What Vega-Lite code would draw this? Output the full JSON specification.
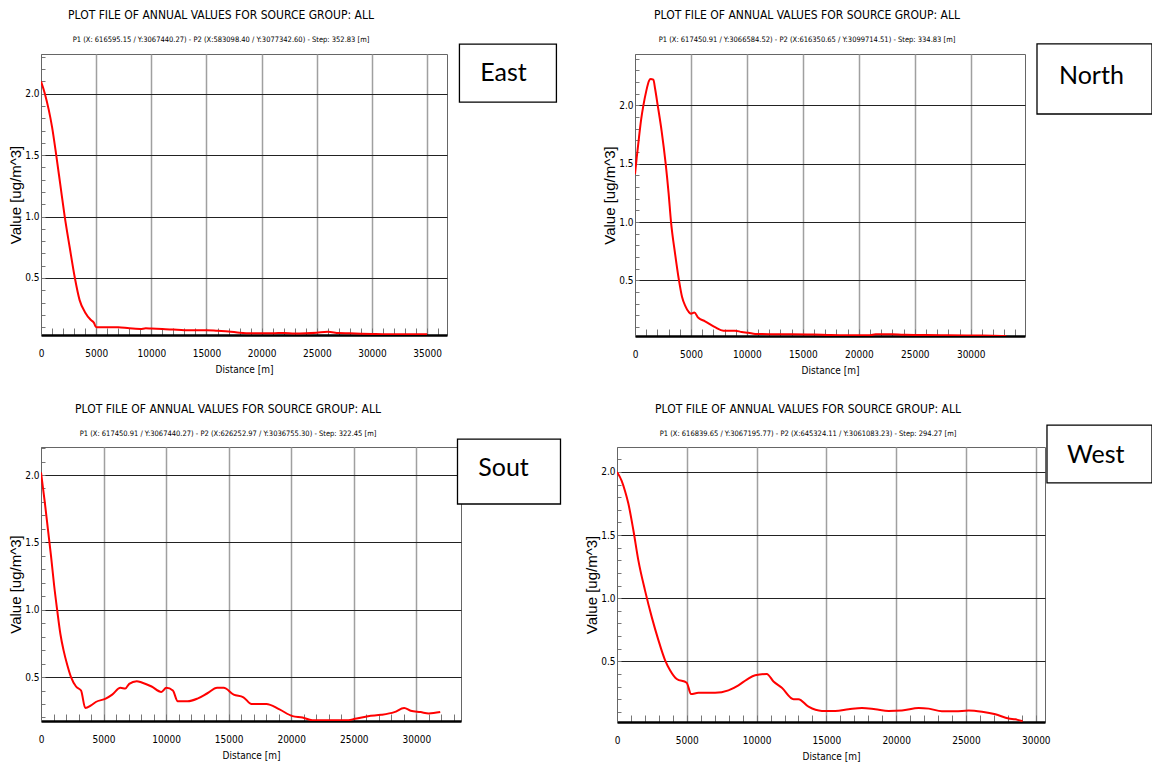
{
  "$schema": "https://vega.github.io/schema/vega-lite/v6.json",
  "padding": {"left": 8, "top": 8, "right": 0, "bottom": 0},
  "background": "white",
  "config": {
    "view": {"stroke": "#666", "strokeWidth": 1},
    "axis": {
      "labelFont": "Liberation Sans Narrow, DejaVu Sans Condensed, sans-serif",
      "labelFontSize": 10,
      "labelColor": "#000",
      "titleColor": "#000",
      "titleFontWeight": "normal",
      "labelOverlap": false,
      "labelFlush": false,
      "tickCount": 200
    },
    "axisX": {"titleFont": "Liberation Sans Narrow, DejaVu Sans Condensed, sans-serif", "titleFontSize": 10, "titlePadding": 6},
    "axisY": {"titleFont": "Liberation Sans, Arial, sans-serif", "titleFontSize": 15, "titlePadding": 1},
    "title": {
      "anchor": "middle",
      "frame": "group",
      "dx": -23,
      "font": "Liberation Sans Narrow, DejaVu Sans Condensed, sans-serif",
      "fontSize": 12,
      "fontWeight": "normal",
      "color": "#000",
      "subtitleFont": "Liberation Sans Narrow, DejaVu Sans Condensed, sans-serif",
      "subtitleFontSize": 7.5,
      "subtitleColor": "#000",
      "subtitlePadding": 14
    }
  },
  "datasets": {
    "east": [
      {"d": 0, "v": 2.10}, {"d": 350, "v": 2.00}, {"d": 700, "v": 1.87}, {"d": 1000, "v": 1.73}, {"d": 1380, "v": 1.50},
      {"d": 1750, "v": 1.26}, {"d": 2150, "v": 1.00}, {"d": 2600, "v": 0.75}, {"d": 3070, "v": 0.50}, {"d": 3500, "v": 0.32},
      {"d": 4000, "v": 0.22}, {"d": 4500, "v": 0.16}, {"d": 4800, "v": 0.135}, {"d": 5000, "v": 0.10}, {"d": 6000, "v": 0.10},
      {"d": 7000, "v": 0.10}, {"d": 8000, "v": 0.09}, {"d": 9000, "v": 0.085}, {"d": 9500, "v": 0.09}, {"d": 10000, "v": 0.088},
      {"d": 11000, "v": 0.085}, {"d": 12000, "v": 0.08}, {"d": 13000, "v": 0.075}, {"d": 14000, "v": 0.075}, {"d": 15000, "v": 0.075},
      {"d": 16000, "v": 0.07}, {"d": 17000, "v": 0.065}, {"d": 18000, "v": 0.055}, {"d": 19000, "v": 0.05}, {"d": 20000, "v": 0.05},
      {"d": 21000, "v": 0.05}, {"d": 22000, "v": 0.053}, {"d": 23000, "v": 0.048}, {"d": 24000, "v": 0.05}, {"d": 25000, "v": 0.055},
      {"d": 26000, "v": 0.062}, {"d": 27000, "v": 0.052}, {"d": 28000, "v": 0.05}, {"d": 29000, "v": 0.047}, {"d": 30000, "v": 0.045},
      {"d": 31000, "v": 0.043}, {"d": 32000, "v": 0.043}, {"d": 33000, "v": 0.043}, {"d": 34000, "v": 0.043}, {"d": 35000, "v": 0.042}
    ],
    "north": [
      {"d": 0, "v": 1.41}, {"d": 150, "v": 1.55}, {"d": 350, "v": 1.72}, {"d": 550, "v": 1.88}, {"d": 750, "v": 2.00},
      {"d": 1000, "v": 2.12}, {"d": 1250, "v": 2.21}, {"d": 1400, "v": 2.225}, {"d": 1640, "v": 2.22}, {"d": 1800, "v": 2.14},
      {"d": 2030, "v": 2.00}, {"d": 2380, "v": 1.78}, {"d": 2740, "v": 1.50}, {"d": 3000, "v": 1.25}, {"d": 3220, "v": 1.00},
      {"d": 3580, "v": 0.73}, {"d": 3930, "v": 0.50}, {"d": 4200, "v": 0.36}, {"d": 4500, "v": 0.28}, {"d": 4800, "v": 0.23},
      {"d": 5000, "v": 0.215}, {"d": 5300, "v": 0.225}, {"d": 5660, "v": 0.18}, {"d": 6260, "v": 0.15}, {"d": 7150, "v": 0.10},
      {"d": 7900, "v": 0.07}, {"d": 8940, "v": 0.07}, {"d": 9540, "v": 0.058}, {"d": 10130, "v": 0.052}, {"d": 10730, "v": 0.042},
      {"d": 12000, "v": 0.04}, {"d": 14000, "v": 0.04}, {"d": 16000, "v": 0.037}, {"d": 17500, "v": 0.032}, {"d": 19000, "v": 0.03},
      {"d": 21000, "v": 0.03}, {"d": 21500, "v": 0.038}, {"d": 23000, "v": 0.038}, {"d": 24000, "v": 0.034}, {"d": 26000, "v": 0.033},
      {"d": 28000, "v": 0.03}, {"d": 30000, "v": 0.028}, {"d": 32000, "v": 0.027}, {"d": 33170, "v": 0.024}
    ],
    "south": [
      {"d": 0, "v": 2.02}, {"d": 300, "v": 1.80}, {"d": 550, "v": 1.60}, {"d": 800, "v": 1.40}, {"d": 1050, "v": 1.18},
      {"d": 1290, "v": 1.00}, {"d": 1550, "v": 0.82}, {"d": 1800, "v": 0.70}, {"d": 2100, "v": 0.59}, {"d": 2400, "v": 0.50},
      {"d": 2800, "v": 0.43}, {"d": 3200, "v": 0.40}, {"d": 3540, "v": 0.27}, {"d": 4000, "v": 0.29}, {"d": 4380, "v": 0.315},
      {"d": 5170, "v": 0.34}, {"d": 5690, "v": 0.37}, {"d": 6350, "v": 0.42}, {"d": 6740, "v": 0.415}, {"d": 7050, "v": 0.45},
      {"d": 7650, "v": 0.47}, {"d": 8050, "v": 0.46}, {"d": 8840, "v": 0.43}, {"d": 9620, "v": 0.39}, {"d": 10020, "v": 0.42},
      {"d": 10540, "v": 0.40}, {"d": 10930, "v": 0.32}, {"d": 11720, "v": 0.32}, {"d": 12500, "v": 0.34}, {"d": 13300, "v": 0.38},
      {"d": 14080, "v": 0.42}, {"d": 14600, "v": 0.42}, {"d": 15400, "v": 0.37}, {"d": 16180, "v": 0.35}, {"d": 16830, "v": 0.30},
      {"d": 18010, "v": 0.30}, {"d": 19060, "v": 0.26}, {"d": 20110, "v": 0.21}, {"d": 20900, "v": 0.20}, {"d": 21680, "v": 0.18},
      {"d": 23000, "v": 0.18}, {"d": 24570, "v": 0.18}, {"d": 25090, "v": 0.19}, {"d": 26140, "v": 0.21}, {"d": 27190, "v": 0.22},
      {"d": 28240, "v": 0.24}, {"d": 29030, "v": 0.27}, {"d": 29550, "v": 0.25}, {"d": 30340, "v": 0.24}, {"d": 31000, "v": 0.23},
      {"d": 31910, "v": 0.24}
    ],
    "west": [
      {"d": 0, "v": 2.00}, {"d": 335, "v": 1.93}, {"d": 574, "v": 1.85}, {"d": 813, "v": 1.75}, {"d": 1170, "v": 1.54},
      {"d": 1530, "v": 1.30}, {"d": 2010, "v": 1.06}, {"d": 2490, "v": 0.85}, {"d": 2960, "v": 0.67}, {"d": 3440, "v": 0.51},
      {"d": 3800, "v": 0.43}, {"d": 4280, "v": 0.36}, {"d": 4990, "v": 0.33}, {"d": 5310, "v": 0.24}, {"d": 5830, "v": 0.25},
      {"d": 7030, "v": 0.25}, {"d": 7980, "v": 0.27}, {"d": 8700, "v": 0.31}, {"d": 9300, "v": 0.355}, {"d": 9900, "v": 0.39},
      {"d": 10730, "v": 0.40}, {"d": 11210, "v": 0.34}, {"d": 11810, "v": 0.29}, {"d": 12650, "v": 0.20}, {"d": 13000, "v": 0.20},
      {"d": 13720, "v": 0.14}, {"d": 14680, "v": 0.107}, {"d": 15630, "v": 0.107}, {"d": 16590, "v": 0.12}, {"d": 17550, "v": 0.13},
      {"d": 18500, "v": 0.12}, {"d": 19460, "v": 0.107}, {"d": 20410, "v": 0.11}, {"d": 21610, "v": 0.13}, {"d": 22330, "v": 0.125},
      {"d": 23280, "v": 0.104}, {"d": 24240, "v": 0.104}, {"d": 25190, "v": 0.11}, {"d": 26150, "v": 0.10}, {"d": 27110, "v": 0.08},
      {"d": 28060, "v": 0.046}, {"d": 28540, "v": 0.04}, {"d": 29060, "v": 0.025}
    ]
  },
  "spacing": 26,
  "vconcat": [
    {
      "spacing": 44,
      "hconcat": [
        {
          "title": {"text": "PLOT FILE OF ANNUAL VALUES FOR SOURCE GROUP: ALL", "subtitle": "P1 (X: 616595.15 / Y:3067440.27) - P2 (X:583098.40 / Y:3077342.60) - Step: 352.83 [m]", "offset": -1.5},
          "width": 406, "height": 281,
          "layer": [
            {
              "data": {"name": "east"},
              "mark": {"type": "line", "color": "#ff0000", "strokeWidth": 2, "interpolate": "monotone", "clip": true},
              "encoding": {
                "x": {"field": "d", "type": "quantitative", "scale": {"domain": [0, 36800], "nice": false, "zero": false},
                  "axis": {"title": "Distance [m]", "values": [0,1000,2000,3000,4000,5000,6000,7000,8000,9000,10000,11000,12000,13000,14000,15000,16000,17000,18000,19000,20000,21000,22000,23000,24000,25000,26000,27000,28000,29000,30000,31000,32000,33000,34000,35000,36000],
                    "format": "d", "labelExpr": "datum.value % 5000 === 0 ? datum.label : ''",
                    "grid": true, "gridColor": "#a0a0a0", "gridWidth": 1.5,
                    "gridOpacity": {"condition": {"test": "datum.value % 5000 === 0 && datum.value > 0", "value": 1}, "value": 0},
                    "domainColor": "#000", "domainWidth": 2.5, "tickColor": "#777", "tickSize": -7, "labelPadding": 20}},
                "y": {"field": "v", "type": "quantitative", "scale": {"domain": [0.036, 2.323], "nice": false, "zero": false},
                  "axis": {"title": "Value [ug/m^3]", "values": [0.1,0.2,0.3,0.4,0.5,0.6,0.7,0.8,0.9,1.0,1.1,1.2,1.3,1.4,1.5,1.6,1.7,1.8,1.9,2.0,2.1,2.2,2.3],
                    "format": ".1f", "labelExpr": "abs(datum.value*2 - round(datum.value*2)) < 0.001 ? datum.label : ''",
                    "grid": true, "gridColor": "#222", "gridWidth": 1,
                    "gridOpacity": {"condition": {"test": "abs(datum.value*2 - round(datum.value*2)) < 0.001", "value": 1}, "value": 0},
                    "domainColor": "#666", "domainWidth": 1, "tickColor": "#777", "tickSize": -4, "labelPadding": 6}}
              }
            },
            {
              "data": {"values": [{"label": "East"}]},
              "mark": {"type": "rect", "fill": "white", "stroke": "black", "strokeWidth": 1.3},
              "encoding": {"x": {"datum": 37927}, "x2": {"datum": 46718}, "y": {"datum": 2.404}, "y2": {"datum": 1.932}}
            },
            {
              "data": {"values": [{"label": "East"}]},
              "mark": {"type": "text", "font": "Lato", "fontSize": 25, "align": "center", "baseline": "middle", "color": "#000"},
              "encoding": {"x": {"datum": 41919}, "y": {"datum": 2.168}, "text": {"field": "label"}}
            }
          ]
        },
        {
          "title": {"text": "PLOT FILE OF ANNUAL VALUES FOR SOURCE GROUP: ALL", "subtitle": "P1 (X: 617450.91 / Y:3066584.52) - P2 (X:616350.65 / Y:3099714.51) - Step: 334.83 [m]", "offset": -1.5},
          "width": 390, "height": 282,
          "layer": [
            {
              "data": {"name": "north"},
              "mark": {"type": "line", "color": "#ff0000", "strokeWidth": 2, "interpolate": "monotone", "clip": true},
              "encoding": {
                "x": {"field": "d", "type": "quantitative", "scale": {"domain": [0, 34850], "nice": false, "zero": false},
                  "axis": {"title": "Distance [m]", "values": [0,1000,2000,3000,4000,5000,6000,7000,8000,9000,10000,11000,12000,13000,14000,15000,16000,17000,18000,19000,20000,21000,22000,23000,24000,25000,26000,27000,28000,29000,30000,31000,32000,33000,34000],
                    "format": "d", "labelExpr": "datum.value % 5000 === 0 ? datum.label : ''",
                    "grid": true, "gridColor": "#a0a0a0", "gridWidth": 1.5,
                    "gridOpacity": {"condition": {"test": "datum.value % 5000 === 0 && datum.value > 0", "value": 1}, "value": 0},
                    "domainColor": "#000", "domainWidth": 2.5, "tickColor": "#777", "tickSize": -7, "labelPadding": 20}},
                "y": {"field": "v", "type": "quantitative", "scale": {"domain": [0.024, 2.44], "nice": false, "zero": false},
                  "axis": {"title": "Value [ug/m^3]", "values": [0.1,0.2,0.3,0.4,0.5,0.6,0.7,0.8,0.9,1.0,1.1,1.2,1.3,1.4,1.5,1.6,1.7,1.8,1.9,2.0,2.1,2.2,2.3,2.4],
                    "format": ".1f", "labelExpr": "abs(datum.value*2 - round(datum.value*2)) < 0.001 ? datum.label : ''",
                    "grid": true, "gridColor": "#222", "gridWidth": 1,
                    "gridOpacity": {"condition": {"test": "abs(datum.value*2 - round(datum.value*2)) < 0.001", "value": 1}, "value": 0},
                    "domainColor": "#666", "domainWidth": 1, "tickColor": "#777", "tickSize": -4, "labelPadding": 6}}
              }
            },
            {
              "data": {"values": [{"label": "North"}]},
              "mark": {"type": "rect", "fill": "white", "stroke": "black", "strokeWidth": 1.3},
              "encoding": {"x": {"datum": 35922}, "x2": {"datum": 46198}, "y": {"datum": 2.526}, "y2": {"datum": 1.926}}
            },
            {
              "data": {"values": [{"label": "North"}]},
              "mark": {"type": "text", "font": "Lato", "fontSize": 25, "align": "left", "baseline": "middle", "color": "#000"},
              "encoding": {"x": {"datum": 37888}, "y": {"datum": 2.25}, "text": {"field": "label"}}
            }
          ]
        }
      ]
    },
    {
      "spacing": 22,
      "hconcat": [
        {
          "title": {"text": "PLOT FILE OF ANNUAL VALUES FOR SOURCE GROUP: ALL", "subtitle": "P1 (X: 617450.91 / Y:3067440.27) - P2 (X:626252.97 / Y:3036755.30) - Step: 322.45 [m]", "offset": -0.5},
          "width": 420, "height": 274,
          "layer": [
            {
              "data": {"name": "south"},
              "mark": {"type": "line", "color": "#ff0000", "strokeWidth": 2, "interpolate": "monotone", "clip": true},
              "encoding": {
                "x": {"field": "d", "type": "quantitative", "scale": {"domain": [0, 33570], "nice": false, "zero": false},
                  "axis": {"title": "Distance [m]", "values": [0,1000,2000,3000,4000,5000,6000,7000,8000,9000,10000,11000,12000,13000,14000,15000,16000,17000,18000,19000,20000,21000,22000,23000,24000,25000,26000,27000,28000,29000,30000,31000,32000,33000],
                    "format": "d", "labelExpr": "datum.value % 5000 === 0 ? datum.label : ''",
                    "grid": true, "gridColor": "#a0a0a0", "gridWidth": 1.5,
                    "gridOpacity": {"condition": {"test": "datum.value % 5000 === 0 && datum.value > 0", "value": 1}, "value": 0},
                    "domainColor": "#000", "domainWidth": 2.5, "tickColor": "#777", "tickSize": -7, "labelPadding": 20}},
                "y": {"field": "v", "type": "quantitative", "scale": {"domain": [0.174, 2.208], "nice": false, "zero": false},
                  "axis": {"title": "Value [ug/m^3]", "values": [0.2,0.3,0.4,0.5,0.6,0.7,0.8,0.9,1.0,1.1,1.2,1.3,1.4,1.5,1.6,1.7,1.8,1.9,2.0,2.1,2.2],
                    "format": ".1f", "labelExpr": "abs(datum.value*2 - round(datum.value*2)) < 0.001 ? datum.label : ''",
                    "grid": true, "gridColor": "#222", "gridWidth": 1,
                    "gridOpacity": {"condition": {"test": "abs(datum.value*2 - round(datum.value*2)) < 0.001", "value": 1}, "value": 0},
                    "domainColor": "#666", "domainWidth": 1, "tickColor": "#777", "tickSize": -4, "labelPadding": 6}}
              }
            },
            {
              "data": {"values": [{"label": "Sout"}]},
              "mark": {"type": "rect", "fill": "white", "stroke": "black", "strokeWidth": 1.3},
              "encoding": {"x": {"datum": 33290}, "x2": {"datum": 41523}, "y": {"datum": 2.267}, "y2": {"datum": 1.785}}
            },
            {
              "data": {"values": [{"label": "Sout"}]},
              "mark": {"type": "text", "font": "Lato", "fontSize": 25, "align": "center", "baseline": "middle", "color": "#000"},
              "encoding": {"x": {"datum": 36967}, "y": {"datum": 2.052}, "text": {"field": "label"}}
            }
          ]
        },
        {
          "title": {"text": "PLOT FILE OF ANNUAL VALUES FOR SOURCE GROUP: ALL", "subtitle": "P1 (X: 616839.65 / Y:3067195.77) - P2 (X:645324.11 / Y:3061083.23) - Step: 294.27 [m]", "offset": -14.5},
          "width": 428, "height": 275,
          "layer": [
            {
              "data": {"name": "west"},
              "mark": {"type": "line", "color": "#ff0000", "strokeWidth": 2, "interpolate": "monotone", "clip": true},
              "encoding": {
                "x": {"field": "d", "type": "quantitative", "scale": {"domain": [0, 30660], "nice": false, "zero": false},
                  "axis": {"title": "Distance [m]", "values": [0,1000,2000,3000,4000,5000,6000,7000,8000,9000,10000,11000,12000,13000,14000,15000,16000,17000,18000,19000,20000,21000,22000,23000,24000,25000,26000,27000,28000,29000,30000],
                    "format": "d", "labelExpr": "datum.value % 5000 === 0 ? datum.label : ''",
                    "grid": true, "gridColor": "#a0a0a0", "gridWidth": 1.5,
                    "gridOpacity": {"condition": {"test": "datum.value % 5000 === 0 && datum.value > 0", "value": 1}, "value": 0},
                    "domainColor": "#000", "domainWidth": 2.5, "tickColor": "#777", "tickSize": -7, "labelPadding": 20}},
                "y": {"field": "v", "type": "quantitative", "scale": {"domain": [0.019, 2.198], "nice": false, "zero": false},
                  "axis": {"title": "Value [ug/m^3]", "values": [0.1,0.2,0.3,0.4,0.5,0.6,0.7,0.8,0.9,1.0,1.1,1.2,1.3,1.4,1.5,1.6,1.7,1.8,1.9,2.0,2.1],
                    "format": ".1f", "labelExpr": "abs(datum.value*2 - round(datum.value*2)) < 0.001 ? datum.label : ''",
                    "grid": true, "gridColor": "#222", "gridWidth": 1,
                    "gridOpacity": {"condition": {"test": "abs(datum.value*2 - round(datum.value*2)) < 0.001", "value": 1}, "value": 0},
                    "domainColor": "#666", "domainWidth": 1, "tickColor": "#777", "tickSize": -4, "labelPadding": 6}}
              }
            },
            {
              "data": {"values": [{"label": "West"}]},
              "mark": {"type": "rect", "fill": "white", "stroke": "black", "strokeWidth": 1.3},
              "encoding": {"x": {"datum": 30802}, "x2": {"datum": 38324}, "y": {"datum": 2.372}, "y2": {"datum": 1.913}}
            },
            {
              "data": {"values": [{"label": "West"}]},
              "mark": {"type": "text", "font": "Lato", "fontSize": 25, "align": "left", "baseline": "middle", "color": "#000"},
              "encoding": {"x": {"datum": 32235}, "y": {"datum": 2.135}, "text": {"field": "label"}}
            }
          ]
        }
      ]
    }
  ]
}
